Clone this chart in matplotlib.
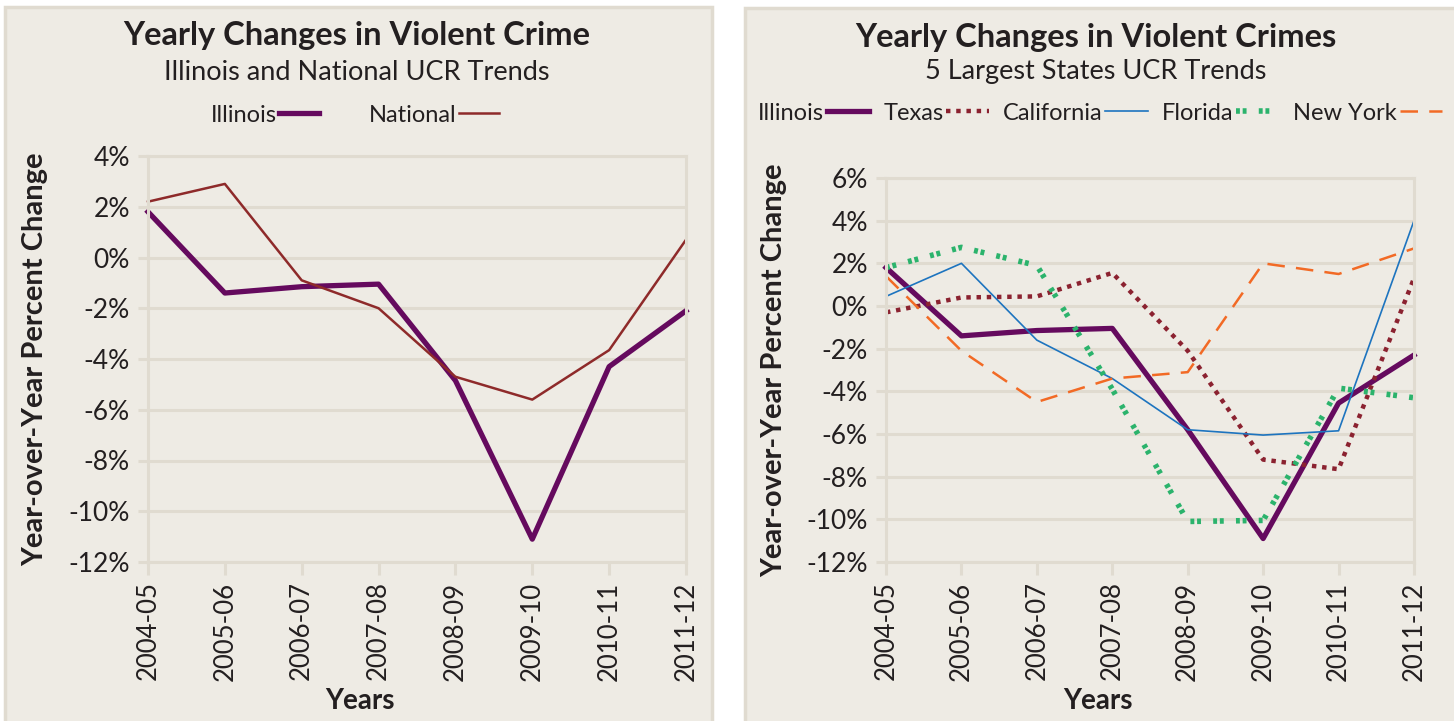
import matplotlib
matplotlib.use("Agg")
import matplotlib.pyplot as plt
from matplotlib.patches import Rectangle

plt.rcParams['font.family'] = ['Lato', 'DejaVu Sans']

# Data (percent change)
years = ["2004-05", "2005-06", "2006-07", "2007-08", "2008-09", "2009-10", "2010-11", "2011-12"]

il_left = [1.8, -1.4, -1.15, -1.05, -4.85, -11.1, -4.3, -2.1]
national = [2.2, 2.9, -0.9, -2.0, -4.7, -5.6, -3.65, 0.7]

illinois = [1.8, -1.4, -1.15, -1.05, -5.8, -10.9, -4.55, -2.3]
texas = [-0.3, 0.4, 0.45, 1.55, -2.1, -7.2, -7.65, 1.3]
california = [0.45, 2.0, -1.6, -3.4, -5.8, -6.05, -5.85, 4.0]
florida = [1.8, 2.75, 1.9, -3.9, -10.1, -10.05, -3.85, -4.3]
new_york = [1.4, -2.1, -4.5, -3.4, -3.1, 2.0, 1.5, 2.7]

W, H = 1454, 721
BG = "#EEEBE4"
GRID = "#E0DBD0"
TXT = "#231F20"

fig = plt.figure(figsize=(W / 100, H / 100), dpi=100, facecolor="white")

# panel backgrounds
for x0, x1, y0 in [(5, 712, 7), (745, 1470, 8)]:
    fig.patches.append(Rectangle((x0 / W, -0.01), (x1 - x0) / W, (H - y0) / H + 0.01,
                                 transform=fig.transFigure, facecolor=BG,
                                 edgecolor=GRID, linewidth=2.5, zorder=-5))


def style_axes(ax, ylim, width_px, height_px, ylabel_gap):
    ax.set_facecolor(BG)
    ax.set_xlim(0, len(years) - 1)
    ax.set_ylim(*ylim)
    ax.set_yticks(range(ylim[0], ylim[1] + 1, 2))
    ax.set_yticklabels([f"{v}%" for v in range(ylim[0], ylim[1] + 1, 2)])
    ax.set_xticks(range(len(years)))
    ax.set_xticklabels(years, rotation=90)
    ax.grid(axis="y", color=GRID, linewidth=2.2)
    ax.set_axisbelow(True)
    for s in ax.spines.values():
        s.set_color(GRID)
        s.set_linewidth(2.2)
    ax.tick_params(axis="y", length=7, width=2.2, color=GRID, labelsize=19,
                   labelcolor=TXT, pad=6)
    ax.tick_params(axis="x", length=9, width=2.2, color=GRID, labelsize=18.5,
                   labelcolor=TXT, pad=5)
    ax.set_xlabel("Years", fontsize=20, fontweight="bold", color=TXT)
    ax.set_ylabel("Year-over-Year Percent Change", fontsize=21, fontweight="bold",
                  color=TXT)
    # label positions (pixels measured from the axes box)
    ax.xaxis.set_label_coords(212 / width_px, -126 / height_px)
    ax.yaxis.set_label_coords(-ylabel_gap / width_px, 0.5)


x = range(len(years))

# ---- left chart
ax1 = fig.add_axes([148 / W, (H - 562) / H, (686 - 148) / W, (562 - 156) / H])
style_axes(ax1, (-12, 4), 538, 406, 100)
ax1.plot(x, il_left, color="#650A5E", linewidth=3.8, label="Illinois", clip_on=False)
ax1.plot(x, national, color="#8E2A2A", linewidth=1.8, label="National", clip_on=False)
ax1.legend(loc="center", bbox_to_anchor=(355 / W, (H - 115) / H),
           bbox_transform=fig.transFigure, ncol=2, frameon=False, markerfirst=False,
           fontsize=17, handlelength=1.7, handletextpad=0.1, columnspacing=2.1,
           labelcolor=TXT)
fig.text(357 / W, (H - 35) / H, "Yearly Changes in Violent Crime", ha="center",
         va="center", fontsize=23.5, fontweight="bold", color=TXT)
fig.text(357 / W, (H - 72) / H, "Illinois and National UCR Trends", ha="center",
         va="center", fontsize=19.5, color=TXT)

# ---- right chart
ax2 = fig.add_axes([886 / W, (H - 562) / H, (1414 - 886) / W, (562 - 178) / H])
style_axes(ax2, (-12, 6), 528, 384, 99)
ax2.plot(x, illinois, color="#650A5E", linewidth=3.8, label="Illinois", clip_on=False)
ax2.plot(x, texas, color="#8B2230", linewidth=3.2, linestyle=(0, (1.0, 1.3)),
         label="Texas", clip_on=False)
ax2.plot(x, california, color="#1D74BF", linewidth=1.2, label="California", clip_on=False)
ax2.plot(x, florida, color="#2BB36C", linewidth=4.0, linestyle=(0, (0.7, 0.5, 0.7, 2.2)),
         label="Florida", clip_on=False)
ax2.plot(x, new_york, color="#F26A25", linewidth=1.8, linestyle=(0, (7, 4.5)),
         label="New York", clip_on=False)
ax2.legend(loc="center", bbox_to_anchor=(1100 / W, (H - 113) / H),
           bbox_transform=fig.transFigure, ncol=5, frameon=False, markerfirst=False,
           fontsize=17, handlelength=1.8, handletextpad=0.12, columnspacing=0.6,
           labelcolor=TXT)
fig.text(1096 / W, (H - 37) / H, "Yearly Changes in Violent Crimes", ha="center",
         va="center", fontsize=23.5, fontweight="bold", color=TXT)
fig.text(1096 / W, (H - 72) / H, "5 Largest States UCR Trends", ha="center",
         va="center", fontsize=19.5, color=TXT)

fig.savefig("out.png", dpi=100, facecolor="white")
